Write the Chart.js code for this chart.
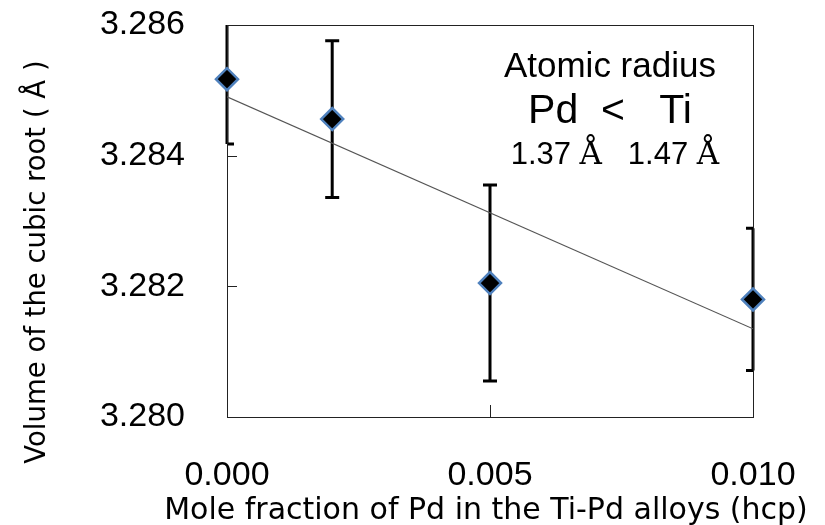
<!DOCTYPE html>
<html>
<head>
<meta charset="utf-8">
<script src="https://cdn.jsdelivr.net/npm/chart.js@4.4.1/dist/chart.umd.min.js"></script>
<style>
  html, body { margin: 0; padding: 0; background: #fff; }
  #wrap { width: 825px; height: 525px; }
</style>
</head>
<body>
<div id="wrap"><canvas id="volChart" width="825" height="525"></canvas></div>
<script>
// measured points (Pd mole fraction vs cubic root of cell volume)
const molePd = [0.000, 0.002, 0.005, 0.010];
const cubicRoot = [3.28517, 3.28456, 3.28205, 3.28180];
const errBar = [0.00099, 0.00120, 0.00150, 0.00109];

// straight fit line, read at both ends
const fitX = [0.000, 0.010];
const fitY = [3.28490, 3.28135];

const xTicks = [0.000, 0.005, 0.010];
const yTicks = [3.280, 3.282, 3.284, 3.286];

const xTitle = 'Mole fraction of Pd in the Ti-Pd alloys (hcp)';
const yTitle = 'Volume of the cubic root ( \u00c5 )';
const noteTitle = 'Atomic radius';
const noteCompare = 'Pd  <   Ti';
const noteRadii = ['1.37', '1.47'];

const SANS = '"Liberation Sans", Arial, sans-serif';
const WIDE = '"DejaVu Sans", Verdana, sans-serif';
const SERIF = '"DejaVu Serif", "Liberation Serif", serif';

const pts = molePd.map((x, i) => ({ x: x, y: cubicRoot[i] }));
const fitPts = fitX.map((x, i) => ({ x: x, y: fitY[i] }));

// plot frame, inward ticks and error bars
const framePlugin = {
    id: 'frame',
    beforeDatasetsDraw(chart) {
        const ctx = chart.ctx;
        const a = chart.chartArea;
        const xs = chart.scales.x;
        const ys = chart.scales.y;
        const w = a.right - a.left;
        const h = a.bottom - a.top;
        ctx.save();
        ctx.strokeStyle = '#000';
        ctx.lineWidth = 3;

        // vertical part of the error bars: cut at top/bottom only
        ctx.save();
        ctx.beginPath();
        ctx.rect(a.left - 4, a.top, w + 8, h);
        ctx.clip();
        ctx.beginPath();
        pts.forEach((p, i) => {
            const px = xs.getPixelForValue(p.x);
            ctx.moveTo(px, ys.getPixelForValue(p.y + errBar[i]));
            ctx.lineTo(px, ys.getPixelForValue(p.y - errBar[i]));
        });
        ctx.stroke();
        ctx.restore();

        // caps, cut to the plot box
        ctx.save();
        ctx.beginPath();
        ctx.rect(a.left, a.top, w, h);
        ctx.clip();
        ctx.beginPath();
        pts.forEach((p, i) => {
            const px = xs.getPixelForValue(p.x);
            const hi = ys.getPixelForValue(p.y + errBar[i]);
            const lo = ys.getPixelForValue(p.y - errBar[i]);
            ctx.moveTo(px - 7, hi);
            ctx.lineTo(px + 7, hi);
            ctx.moveTo(px - 7, lo);
            ctx.lineTo(px + 7, lo);
        });
        ctx.stroke();
        ctx.restore();

        ctx.strokeStyle = '#222';
        ctx.lineWidth = 1;
        ctx.strokeRect(a.left + 0.5, a.top + 0.5, w, h);

        ctx.beginPath();
        yTicks.forEach(v => {
            const py = Math.round(ys.getPixelForValue(v)) + 0.5;
            ctx.moveTo(a.left, py);
            ctx.lineTo(a.left + 10, py);
        });
        xTicks.forEach(v => {
            const px = Math.round(xs.getPixelForValue(v)) + 0.5;
            ctx.moveTo(px, a.bottom);
            ctx.lineTo(px, a.bottom - 12);
        });
        ctx.stroke();
        ctx.restore();
    },
    afterDraw(chart) {
        const ctx = chart.ctx;
        const a = chart.chartArea;
        const w = a.right - a.left;
        ctx.save();
        ctx.fillStyle = '#000';
        ctx.textBaseline = 'alphabetic';

        // axis titles
        ctx.save();
        ctx.translate(45, 262);
        ctx.rotate(-Math.PI / 2);
        ctx.textAlign = 'center';
        ctx.font = '27.5px ' + WIDE;
        ctx.fillText(yTitle, 0, 0);
        ctx.restore();

        ctx.textAlign = 'center';
        ctx.font = '30px ' + WIDE;
        ctx.fillText(xTitle, 486, 519);

        // note in upper right
        const cx = a.left + 0.728 * w;
        ctx.font = '35px ' + SANS;
        ctx.fillText(noteTitle, cx, a.top + 52);
        ctx.font = '41px ' + SANS;
        ctx.fillText(noteCompare, cx, a.top + 98);

        const parts = [
            [noteRadii[0] + ' ', '31px ' + SANS],
            ['\u00c5', '31px ' + SERIF],
            ['   ' + noteRadii[1] + ' ', '31px ' + SANS],
            ['\u00c5', '31px ' + SERIF]
        ];
        let total = 0;
        parts.forEach(p => { ctx.font = p[1]; total += ctx.measureText(p[0]).width; });
        let x = cx + 5 - total / 2;
        ctx.textAlign = 'left';
        parts.forEach(p => {
            ctx.font = p[1];
            ctx.fillText(p[0], x, a.top + 139);
            x += ctx.measureText(p[0]).width;
        });
        ctx.restore();
    }
};

new Chart(document.getElementById('volChart'), {
    type: 'scatter',
    data: {
        datasets: [{
            label: 'measured',
            data: pts,
            pointStyle: 'rectRot',
            pointRadius: 11,
            pointHoverRadius: 11,
            backgroundColor: '#000',
            borderColor: '#4f81bd',
            borderWidth: 2.5,
            clip: false,
            order: 0
        }, {
            type: 'line',
            label: 'fit',
            data: fitPts,
            borderColor: '#555',
            borderWidth: 1.2,
            pointRadius: 0,
            fill: false,
            order: 1
        }]
    },
    options: {
        responsive: false,
        animation: false,
        layout: { autoPadding: false, padding: { left: 0, right: 72, top: 25, bottom: 0 } },
        plugins: {
            legend: { display: false },
            tooltip: { enabled: false }
        },
        scales: {
            x: {
                type: 'linear',
                min: 0,
                max: 0.01,
                afterBuildTicks: s => { s.ticks = xTicks.map(v => ({ value: v })); },
                afterFit: s => {
                    s.height = 108;
                    s.paddingLeft = 0;
                    s.paddingRight = 0;
                },
                grid: { display: false, drawTicks: false },
                border: { display: false },
                ticks: {
                    padding: 38,
                    color: '#000',
                    maxRotation: 0,
                    autoSkip: false,
                    font: { family: SANS, size: 34 },
                    callback: v => Number(v).toFixed(3)
                }
            },
            y: {
                min: 3.280,
                max: 3.286,
                afterBuildTicks: s => { s.ticks = yTicks.map(v => ({ value: v })); },
                afterFit: s => {
                    s.width = 227;
                    s.paddingTop = 0;
                    s.paddingBottom = 0;
                },
                grid: { display: false, drawTicks: false },
                border: { display: false },
                ticks: {
                    padding: 42,
                    color: '#000',
                    autoSkip: false,
                    font: { family: SANS, size: 34 },
                    callback: v => Number(v).toFixed(3)
                }
            }
        }
    },
    plugins: [framePlugin]
});
</script>
</body>
</html>
